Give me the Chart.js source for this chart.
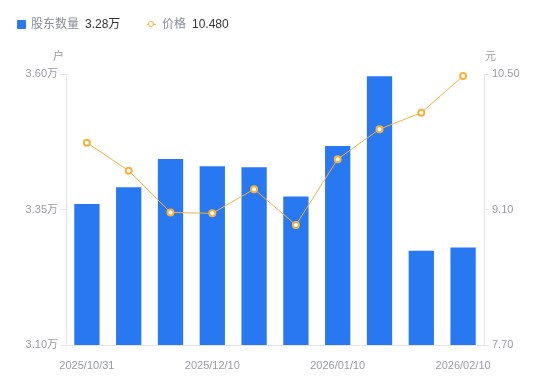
<!DOCTYPE html>
<html>
<head>
<meta charset="utf-8">
<script src="https://cdn.jsdelivr.net/npm/chart.js@4.4.1/dist/chart.umd.min.js"></script>
<style>
  html, body { margin: 0; padding: 0; background: #fff; }
  #wrap { position: relative; width: 550px; height: 381px; font-family: "Liberation Sans", "Noto Sans CJK SC", sans-serif; }
  #c { position: absolute; left: 0; top: 0; }
  .abs { position: absolute; white-space: nowrap; line-height: 1; }
  .lg { font-size: 12px; color: #8a8d96; }
  .lv { font-size: 12px; color: #333; }
  .unit { font-size: 11px; color: #9a9ca5; }
</style>
</head>
<body>
<div id="wrap">
  <canvas id="c" width="550" height="381"></canvas>
  <div class="abs" style="left:17px;top:20px;width:9px;height:9px;background:#2878f2;border-radius:1px;"></div>
  <div class="abs lg" style="left:31px;top:18px;">股东数量</div>
  <div class="abs lv" style="left:85px;top:18px;" id="v1"></div>
  <div class="abs" style="left:147px;top:24px;width:9px;height:1px;background:#f7b13c;"></div>
  <div class="abs" style="left:148px;top:21px;width:4px;height:4px;border:1.5px solid #f7b13c;border-radius:50%;background:#fff;"></div>
  <div class="abs lg" style="left:162px;top:18px;">价格</div>
  <div class="abs lv" style="left:192px;top:18px;" id="v2"></div>
  <div class="abs unit" style="left:53px;top:51px;">户</div>
  <div class="abs unit" style="left:485px;top:51px;">元</div>
</div>
<script>
const categories = ["2025/10/31","2025/11/10","2025/11/20","2025/12/10","2025/12/20","2025/12/31","2026/01/10","2026/01/20","2026/01/31","2026/02/10"];
const holders = [3.360, 3.391, 3.443, 3.430, 3.428, 3.374, 3.467, 3.596, 3.274, 3.280];
const prices = [9.79, 9.50, 9.07, 9.06, 9.31, 8.94, 9.62, 9.93, 10.10, 10.48];
const leftTicks = [3.10, 3.35, 3.60];
const rightTicks = [7.70, 9.10, 10.50];

document.getElementById('v1').textContent = holders[holders.length-1].toFixed(2) + '万';
document.getElementById('v2').textContent = prices[prices.length-1].toFixed(3);

const FONT = { family: '"Liberation Sans", "Noto Sans CJK SC", sans-serif', size: 11 };
const TICKC = '#9a9ca5';
const LINEC = '#e3e4e8';

new Chart(document.getElementById('c'), {
  data: {
    labels: categories,
    datasets: [
      {
        type: 'line', label: '价格', data: prices, yAxisID: 'y2', order: 0, clip: false,
        borderColor: '#f7b13c', borderWidth: 1, tension: 0,
        pointRadius: 3, pointBorderWidth: 2, pointBackgroundColor: '#fff', pointBorderColor: '#f7b13c'
      },
      {
        type: 'bar', label: '股东数量', data: holders, yAxisID: 'y', order: 1,
        backgroundColor: '#2878f2', categoryPercentage: 1, barPercentage: 0.605
      }
    ]
  },
  options: {
    responsive: false, animation: false,
    layout: { padding: { top: 74, left: 0, right: 0, bottom: 0 } },
    plugins: { legend: { display: false }, tooltip: { enabled: false } },
    scales: {
      x: {
        offset: true,
        grid: { display: false },
        border: { display: true, color: LINEC },
        ticks: {
          autoSkip: false, maxRotation: 0, color: TICKC, font: FONT, padding: 6,
          callback: function(v, i) { return i % 3 === 0 ? categories[i] : ''; }
        },
        afterFit: s => { s.height = 36; }
      },
      y: {
        position: 'left', min: leftTicks[0], max: leftTicks[leftTicks.length-1],
        afterBuildTicks: s => { s.ticks = leftTicks.map(v => ({ value: v })); },
        grid: { drawOnChartArea: false, drawTicks: true, tickLength: 6, color: LINEC },
        border: { display: true, color: LINEC },
        ticks: { color: TICKC, font: FONT, padding: 2, callback: v => v.toFixed(2) + '万' },
        afterFit: s => { s.width = 66; }
      },
      y2: {
        position: 'right', min: rightTicks[0], max: rightTicks[rightTicks.length-1],
        afterBuildTicks: s => { s.ticks = rightTicks.map(v => ({ value: v })); },
        grid: { drawOnChartArea: false, drawTicks: true, tickLength: 5, color: LINEC },
        border: { display: true, color: LINEC },
        ticks: { color: TICKC, font: FONT, padding: 3, callback: v => v.toFixed(2) },
        afterFit: s => { s.width = 66; }
      }
    }
  }
});
</script>
</body>
</html>
